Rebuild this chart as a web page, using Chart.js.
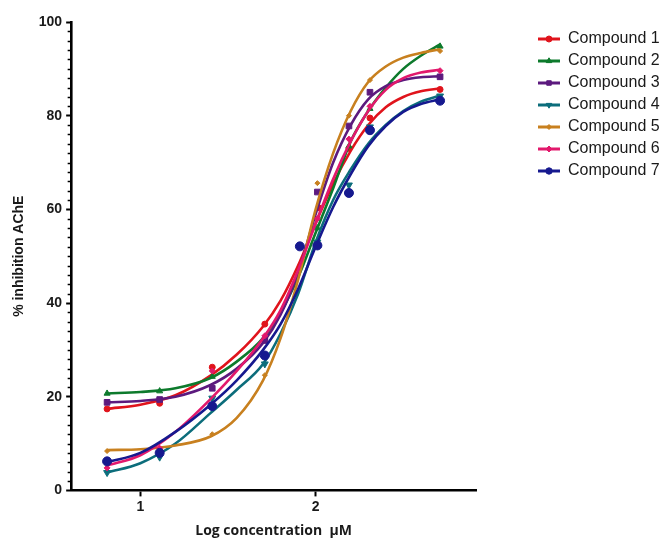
<!DOCTYPE html>
<html>
<head>
<meta charset="utf-8">
<script src="https://cdn.jsdelivr.net/npm/chart.js@4.4.1/dist/chart.umd.min.js"></script>
<style>
html,body{margin:0;padding:0;background:#ffffff;}
#wrap{width:662px;height:540px;position:relative;}
</style>
</head>
<body>
<div id="wrap"><canvas id="c" width="662" height="540"></canvas></div>
<script>
// ---- data ----
const compoundNames = ['Compound 1','Compound 2','Compound 3','Compound 4','Compound 5','Compound 6','Compound 7'];
const colors = ['#e0141c','#0d7a2c','#5c1a7e','#0c6d7b','#c8801f','#e2196c','#16198f'];

const xTickValues = [1, 2];
const yTickStep = 20;
const yMinorStep = 2;

// measured points (log concentration, % inhibition)
const pointsC1X = [0.81, 1.11, 1.41, 1.71, 2.02, 2.19, 2.31, 2.71];
const pointsC1Y = [17.4, 18.6, 26.3, 35.5, 60.3, 73.0, 79.5, 85.6];
const pointsC2X = [0.81, 1.11, 1.41, 1.71, 2.01, 2.19, 2.31, 2.71];
const pointsC2Y = [20.7, 21.2, 24.3, 32.5, 56.0, 73.5, 81.5, 94.8];
const pointsC3X = [0.81, 1.11, 1.41, 1.71, 2.01, 2.19, 2.31, 2.71];
const pointsC3Y = [18.8, 19.4, 21.8, 32.0, 63.7, 77.8, 85.0, 88.3];
const pointsC4X = [0.81, 1.11, 1.41, 1.71, 2.01, 2.19, 2.31, 2.71];
const pointsC4Y = [3.8, 7.1, 19.7, 27.0, 53.0, 65.2, 77.6, 84.2];
const pointsC5X = [0.81, 1.11, 1.41, 1.71, 2.01, 2.19, 2.31, 2.71];
const pointsC5Y = [8.4, 8.8, 12.0, 24.6, 65.6, 80.0, 87.6, 93.8];
const pointsC6X = [0.81, 1.11, 1.41, 1.71, 2.01, 2.19, 2.31, 2.71];
const pointsC6Y = [4.8, 9.0, 25.5, 33.0, 58.0, 75.0, 82.0, 89.6];
const pointsC7X = [0.81, 1.11, 1.41, 1.71, 1.91, 2.01, 2.19, 2.31, 2.71];
const pointsC7Y = [6.2, 8.0, 18.0, 28.8, 52.1, 52.3, 63.5, 76.9, 83.2];

// fitted curves, values
const curveX  = [0.81, 1.0, 1.2, 1.4, 1.55, 1.7, 1.8, 1.9, 2.0, 2.1, 2.2, 2.3, 2.4, 2.5, 2.6, 2.71];
const curveC1 = [17.4, 18.3, 20.3, 24.5, 29.0, 35.0, 40.5, 48.0, 57.0, 65.5, 72.5, 78.0, 81.8, 84.0, 85.2, 85.8];
const curveC2 = [20.7, 21.0, 21.8, 24.0, 27.5, 32.5, 38.0, 45.5, 55.0, 64.5, 74.5, 81.0, 86.0, 90.0, 92.8, 95.2];
const curveC3 = [18.8, 19.1, 20.0, 22.5, 26.0, 31.5, 37.5, 46.5, 59.0, 70.0, 78.0, 83.5, 86.3, 87.6, 88.2, 88.4];
const curveC4 = [3.8, 5.8, 10.0, 16.5, 21.5, 27.0, 33.5, 42.0, 53.0, 62.0, 68.5, 74.0, 78.0, 81.0, 83.0, 84.3];
const curveC5 = [8.6, 8.8, 9.6, 11.5, 15.5, 23.5, 32.5, 45.0, 60.0, 72.0, 81.0, 87.2, 90.5, 92.4, 93.4, 94.2];
const curveC6 = [5.3, 7.5, 12.5, 19.5, 25.5, 32.5, 38.5, 47.0, 57.0, 66.5, 74.5, 81.0, 85.5, 88.0, 89.2, 89.8];
const curveC7 = [6.0, 8.0, 12.5, 18.3, 23.5, 30.0, 35.5, 43.0, 52.0, 60.5, 67.5, 73.5, 77.8, 80.8, 82.5, 83.5];

// ---- styling ----
const markerStyles = ['circle','triangle','rect','triangle','rectRot','rectRot','circle'];
const markerRot    = [0, 0, 0, 180, 0, 0, 0];
const markerRadius = [3, 3.5, 4, 4, 2.5, 3, 4.5];
const legendBoxW = 22;

const pointSets = [[pointsC1X,pointsC1Y],[pointsC2X,pointsC2Y],[pointsC3X,pointsC3Y],[pointsC4X,pointsC4Y],[pointsC5X,pointsC5Y],[pointsC6X,pointsC6Y],[pointsC7X,pointsC7Y]];
const curveSets = [curveC1,curveC2,curveC3,curveC4,curveC5,curveC6,curveC7];

const zip = (xs, ys) => xs.map((x, i) => ({x: x, y: ys[i]}));

const datasets = [];
compoundNames.forEach((name, i) => {
  datasets.push({
    label: name, isCurve: true,
    data: zip(curveX, curveSets[i]),
    showLine: true, cubicInterpolationMode: 'monotone',
    borderColor: colors[i], backgroundColor: colors[i], borderWidth: 2.6,
    pointRadius: 0, order: 20 - 2 * i
  });
  datasets.push({
    label: name + ' data', isCurve: false,
    data: zip(pointSets[i][0], pointSets[i][1]),
    showLine: false,
    borderColor: colors[i], backgroundColor: colors[i], borderWidth: 1,
    pointStyle: markerStyles[i], pointRotation: markerRot[i], pointRadius: markerRadius[i],
    order: 19 - 2 * i
  });
});

const extras = {
  id: 'extras',
  afterDraw(chart) {
    const ctx = chart.ctx;
    const ys = chart.scales.y;
    ctx.save();
    ctx.strokeStyle = '#000';
    ctx.lineWidth = 1.5;
    for (let k = 1; k * yMinorStep < ys.max; k++) {
      const v = k * yMinorStep;
      if (v % yTickStep === 0) continue;
      const py = Math.round(ys.getPixelForValue(v)) + 0.5;
      ctx.beginPath();
      ctx.moveTo(ys.right - 3.5, py);
      ctx.lineTo(ys.right, py);
      ctx.stroke();
    }
    const boxes = chart.legend && chart.legend.legendHitBoxes;
    if (boxes) {
      boxes.forEach((b, i) => {
        const cx = b.left + legendBoxW / 2;
        const cy = b.top + b.height / 2;
        ctx.fillStyle = colors[i];
        ctx.strokeStyle = colors[i];
        ctx.lineWidth = 1;
        if (Chart.helpers && Chart.helpers.drawPoint) {
          Chart.helpers.drawPoint(ctx, {pointStyle: markerStyles[i], radius: Math.min(markerRadius[i], 3.2), rotation: markerRot[i], borderWidth: 1}, cx, cy);
        } else {
          ctx.beginPath(); ctx.arc(cx, cy, 3, 0, Math.PI * 2); ctx.fill();
        }
      });
    }
    ctx.restore();
  }
};

Chart.defaults.font.family = '"Liberation Sans", Arial, sans-serif';
Chart.defaults.color = '#1a1a1a';

new Chart(document.getElementById('c'), {
  type: 'scatter',
  data: { datasets: datasets },
  plugins: [extras],
  options: {
    responsive: false, animation: false, devicePixelRatio: 1, events: [],
    layout: { padding: { left: 7, top: 22, right: 0, bottom: 0 } },
    plugins: {
      tooltip: { enabled: false },
      legend: {
        position: 'right', align: 'start', maxWidth: 130,
        title: { display: true, text: '', font: { size: 1, lineHeight: 1 }, padding: { top: 2, bottom: 0 } },
        labels: {
          boxWidth: legendBoxW, boxHeight: 3, padding: 6,
          font: { size: 16, family: '"Liberation Sans", Arial, sans-serif' },
          generateLabels: (chart) => compoundNames.map((name, i) => ({
            text: name, fillStyle: colors[i], strokeStyle: colors[i], lineWidth: 0,
            hidden: false, datasetIndex: 2 * i, fontColor: '#1a1a1a'
          }))
        }
      }
    },
    scales: {
      x: {
        type: 'linear', min: 0.605, max: 2.915,
        afterBuildTicks: (s) => { s.ticks = xTickValues.map(v => ({ value: v })); },
        ticks: { padding: 2, color: '#1a1a1a', font: { size: 14, weight: 'bold' }, callback: (v) => String(v) },
        grid: { display: true, drawOnChartArea: false, drawTicks: true, tickLength: 6, tickColor: '#000', tickWidth: 2 },
        border: { display: true, color: '#000', width: 2.6 },
        title: { display: true, text: 'Log concentration  µM', color: '#1a1a1a',
                 font: { size: 14, weight: 'bold', family: '"Open Sans", "Liberation Sans", sans-serif' },
                 padding: { top: 5, bottom: 1 } }
      },
      y: {
        type: 'linear', min: 0, max: 100,
        ticks: { stepSize: yTickStep, padding: 4, color: '#1a1a1a', font: { size: 14, weight: 'bold' } },
        grid: { display: true, drawOnChartArea: false, drawTicks: true, tickLength: 5, tickColor: '#000', tickWidth: 2 },
        border: { display: true, color: '#000', width: 2.6 },
        title: { display: true, text: '% inhibition AChE', color: '#1a1a1a',
                 font: { size: 14, weight: 'bold' }, padding: { top: 4, bottom: 7 } }
      },
      yR: {
        type: 'linear', position: 'right', display: true,
        grid: { display: false }, ticks: { display: false }, border: { display: false },
        afterFit: (s) => { s.width = 56; }
      }
    }
  }
});
</script>
</body>
</html>
